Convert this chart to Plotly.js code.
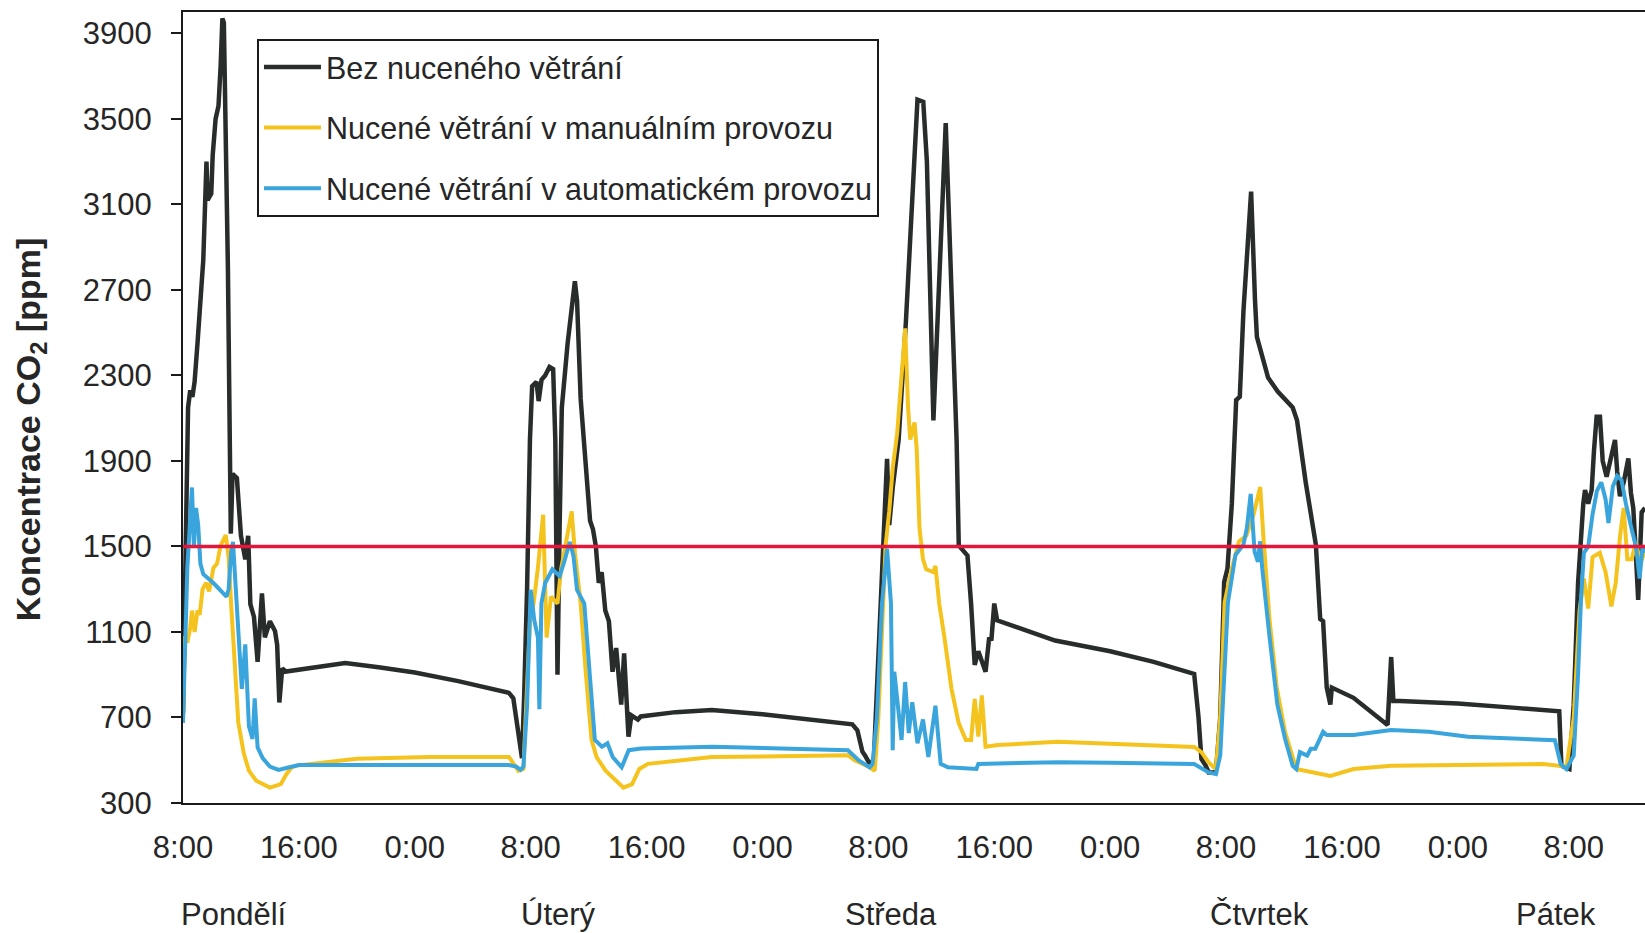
<!DOCTYPE html>
<html>
<head>
<meta charset="utf-8">
<script src="https://cdn.plot.ly/plotly-3.0.1.min.js"></script>
<style>
  html, body { margin: 0; padding: 0; background: #ffffff; }
  #chart { width: 1645px; height: 933px; }
</style>
</head>
<body>
<div id="chart"></div>
<script>
// Hours counted from Monday 0:00
const hoursNoVent = [8.0,8.1,8.2,8.35,8.5,8.65,8.8,9.0,9.4,9.62,9.7,9.95,10.05,10.25,10.45,10.6,10.72,10.82,11.1,11.3,11.42,11.72,12.0,12.3,12.5,12.65,12.9,13.15,13.45,13.65,14.0,14.35,14.5,14.65,14.85,15.1,17.0,19.2,21.5,24.0,27.0,30.5,30.8,31.1,31.4,
  31.55,31.75,31.95,32.1,32.4,32.55,32.75,33.0,33.3,33.55,33.7,33.85,34.0,34.15,34.35,34.55,35.05,35.2,35.45,35.8,36.1,36.3,36.5,36.7,36.9,37.15,37.4,37.65,37.9,38.25,38.45,38.75,38.95,39.4,39.6,42.0,44.5,48.0,51.0,54.2,54.55,54.9,55.1,
  55.5,55.7,56.0,56.3,56.6,56.75,57.0,57.4,57.9,58.7,59.1,59.35,59.8,60.65,61.0,61.4,61.55,62.15,62.4,62.65,62.9,63.4,63.65,63.8,64.0,64.2,68.2,72.0,75.0,77.8,78.1,78.3,78.6,78.8,79.3,
  79.6,79.87,80.1,80.4,80.65,80.7,80.95,81.2,81.73,81.85,82.0,82.13,82.4,82.9,83.57,84.6,84.9,85.5,86.2,86.5,86.7,86.95,87.2,87.3,88.8,90.9,91.15,91.4,91.55,92.0,96.0,100.0,103.0,103.15,103.7,
  104.0,104.3,104.66,104.78,105.0,105.24,105.4,105.58,105.81,106.0,106.27,106.55,106.85,107.0,107.19,107.45,107.77,107.95,108.11,108.3,108.45,108.69,108.92];
const co2NoVent = [720,1300,1550,2150,2230,2200,2270,2450,2840,3300,3120,3150,3330,3500,3560,3750,3970,3950,2800,1560,1840,1820,1550,1440,1550,1230,1170,960,1280,1075,1150,1105,1040,770,930,915,935,955,935,910,870,815,790,650,510,
  800,1300,2000,2250,2270,2180,2280,2300,2340,2330,2000,900,1600,2150,2300,2450,2740,2650,2190,1850,1620,1580,1500,1330,1380,1200,1150,914,1025,760,1000,610,710,690,705,725,735,715,690,668,640,540,520,
  470,520,950,1450,1910,1600,1780,2000,2550,3590,3580,3300,2090,3480,2800,2000,1505,1457,1233,946,1010,914,1074,1060,1233,1154,1060,1010,960,904,700,506,474,443,443,
  700,1333,1397,1700,2100,2185,2200,2600,3160,2900,2650,2480,2415,2290,2225,2150,2090,1800,1508,1160,1150,840,761,840,792,681,665,983,777,777,765,745,729,474,459,
  760,1330,1700,1764,1700,1764,1950,2107,2107,1900,1826,1900,1998,1850,1735,1800,1912,1750,1680,1450,1250,1660,1680];

const hoursManual = [8.0,8.12,8.3,8.5,8.62,8.8,9.0,9.15,9.35,9.6,9.8,10.1,10.35,10.6,10.95,11.15,11.32,11.57,11.82,12.2,12.55,13.05,14.0,14.75,15.15,15.5,15.8,20.0,25.0,30.5,30.9,31.15,31.5,
  31.75,31.95,32.2,32.5,32.86,33.1,33.4,33.85,34.1,34.45,34.83,35.05,35.45,35.8,36.2,36.55,37.17,37.9,38.4,39.0,39.5,40.1,44.5,53.9,54.4,55.4,55.75,
  56.0,56.25,56.5,56.75,57.0,57.3,57.6,57.85,58.05,58.2,58.5,58.65,58.84,59.08,59.3,59.8,59.94,60.2,60.56,61.05,61.54,62.04,62.4,62.65,62.9,63.14,63.4,64.25,68.4,72.0,77.8,78.3,78.8,79.3,
  79.6,79.9,80.4,80.9,81.4,81.9,82.36,82.6,83.0,83.5,84.07,84.85,86.16,87.2,88.8,91.4,101.9,103.0,103.5,
  104.0,104.4,104.7,105.0,105.3,105.8,106.2,106.6,106.9,107.2,107.45,107.7,108.0,108.3,108.6,108.92];
const co2Manual = [700,1080,1050,1120,1200,1100,1200,1180,1300,1330,1290,1400,1420,1505,1553,1450,1233,914,675,531,451,404,372,388,436,467,475,507,515,515,480,451,460,
  900,1150,1233,1400,1648,1074,1265,1233,1393,1520,1664,1473,1233,914,595,515,451,404,372,388,459,483,515,523,499,467,451,
  700,1074,1505,1664,1872,2030,2300,2520,2150,2000,2080,1952,1585,1441,1393,1380,1409,1233,1074,834,675,595,595,787,611,803,563,571,587,578,562,538,490,459,
  700,1238,1397,1524,1550,1650,1778,1524,1158,840,633,459,443,427,459,474,482,474,470,
  700,1200,1350,1210,1450,1470,1380,1220,1330,1550,1680,1440,1440,1520,1420,1480];

const hoursAuto = [8.0,8.3,8.62,8.75,8.9,9.05,9.2,9.4,10.1,11.0,11.15,11.32,11.45,11.7,12.06,12.3,12.55,12.8,12.95,13.15,13.5,14.0,14.6,15.2,16.0,20.0,25.0,30.5,31.0,31.3,31.5,
  31.75,32.0,32.25,32.5,32.6,32.74,33.0,33.5,34.0,34.3,34.7,34.95,35.2,35.7,36.06,36.43,36.92,37.3,37.66,38.28,38.77,39.63,44.56,53.9,54.65,55.4,55.6,
  55.9,56.25,56.5,56.6,56.87,56.99,57.1,57.36,57.6,57.85,58.1,58.34,58.7,59.08,59.45,59.94,60.3,60.8,62.77,62.9,68.4,72.0,77.8,78.8,79.3,
  79.6,79.87,80.13,80.65,81.2,81.44,81.7,81.97,82.2,82.35,82.5,83.0,83.54,84.07,84.6,84.85,85.1,85.6,85.85,86.16,86.4,86.7,86.95,88.8,91.4,94.0,96.7,99.3,102.7,103.1,103.5,
  104.0,104.3,104.5,104.7,105.0,105.3,105.6,105.9,106.2,106.4,106.7,107.0,107.3,107.6,108.0,108.3,108.55,108.75,108.92];
const co2Auto = [675,1400,1776,1500,1680,1600,1420,1370,1329,1265,1300,1473,1521,1233,834,1042,659,600,790,560,510,470,455,465,478,478,480,478,470,455,470,
  755,1297,1154,1074,739,1233,1329,1393,1361,1425,1521,1457,1297,1233,914,595,563,579,515,467,547,555,563,547,499,467,483,
  700,1233,1441,1489,1233,547,914,755,595,866,627,771,579,691,515,755,483,467,459,483,491,488,482,443,435,
  522,920,1238,1460,1508,1587,1746,1476,1428,1524,1397,1079,761,602,474,459,538,522,554,554,586,633,618,618,641,633,610,602,594,482,459,
  522,900,1250,1470,1500,1650,1760,1800,1720,1610,1780,1830,1810,1700,1580,1500,1350,1500,1470];

const limitCO2 = 1500;

const tickHours = [8,16,24,32,40,48,56,64,72,80,88,96,104];
const tickLabels = ['8:00','16:00','0:00','8:00','16:00','0:00','8:00','16:00','0:00','8:00','16:00','0:00','8:00'];
const yTicks = [300,700,1100,1500,1900,2300,2700,3100,3500,3900];
const dayNames = ['Pondělí','Úterý','Středa','Čtvrtek','Pátek'];
const dayLabelHours = [11.5,33.9,56.9,82.3,102.8];

const seriesNames = ['Bez nuceného větrání','Nucené větrání v manuálním provozu','Nucené větrání v automatickém provozu'];

const sans = 'Liberation Sans, Arial, sans-serif';
const textColor = '#262626';

const traces = [
  {x: hoursNoVent, y: co2NoVent, name: seriesNames[0], mode: 'lines', legendgroup: 'a',
   line: {color: '#282d2c', width: 4.5}},
  {x: hoursManual, y: co2Manual, name: seriesNames[1], mode: 'lines', legendgroup: 'b',
   line: {color: '#f5c31d', width: 4}},
  {x: hoursAuto, y: co2Auto, name: seriesNames[2], mode: 'lines', legendgroup: 'c',
   line: {color: '#3aa5dc', width: 4}}
];

const annotations = dayNames.map((d, i) => ({
  text: d, xref: 'x', yref: 'paper', x: dayLabelHours[i], y: -0.141,
  xanchor: 'center', yanchor: 'middle', showarrow: false,
  font: {family: sans, size: 31, color: textColor}
}));
annotations.push({
  text: 'Koncentrace CO<sub>2</sub> [ppm]', xref: 'paper', yref: 'paper',
  x: -0.1045, y: 0.4728, xanchor: 'center', yanchor: 'middle', textangle: -90,
  showarrow: false, font: {family: sans, size: 34, color: textColor, weight: 'bold'}
});

const layout = {
  width: 1645, height: 933,
  margin: {l: 183, r: 0, t: 12, b: 130},
  paper_bgcolor: '#ffffff', plot_bgcolor: '#ffffff',
  showlegend: true,
  legend: {
    x: 0.0506, y: 0.9664, xanchor: 'left', yanchor: 'top',
    bgcolor: '#ffffff', bordercolor: '#1a1a1a', borderwidth: 2,
    font: {family: sans, size: 30.5, color: textColor},
    traceorder: 'grouped', tracegroupgap: 18, itemwidth: 57
  },
  xaxis: {
    range: [8, 108.92], showgrid: false, zeroline: false,
    tickmode: 'array', tickvals: tickHours, ticktext: tickLabels,
    ticks: '', showline: true, linecolor: '#1a1a1a', linewidth: 2, mirror: true,
    tickfont: {family: sans, size: 31, color: textColor},
    ticklabelstandoff: 16
  },
  yaxis: {
    range: [300, 4000], showgrid: false, zeroline: false,
    tickmode: 'array', tickvals: yTicks,
    ticks: 'outside', ticklen: 10, tickwidth: 2, tickcolor: '#1a1a1a',
    showline: true, linecolor: '#1a1a1a', linewidth: 2,
    tickfont: {family: sans, size: 31, color: textColor},
    ticklabelstandoff: 13
  },
  shapes: [{
    type: 'line', xref: 'paper', x0: 0, x1: 1, yref: 'y', y0: limitCO2, y1: limitCO2,
    line: {color: '#e3173c', width: 3.5}, layer: 'above'
  }],
  annotations: annotations
};

Plotly.newPlot('chart', traces, layout, {displayModeBar: false, staticPlot: true});
</script>
</body>
</html>
